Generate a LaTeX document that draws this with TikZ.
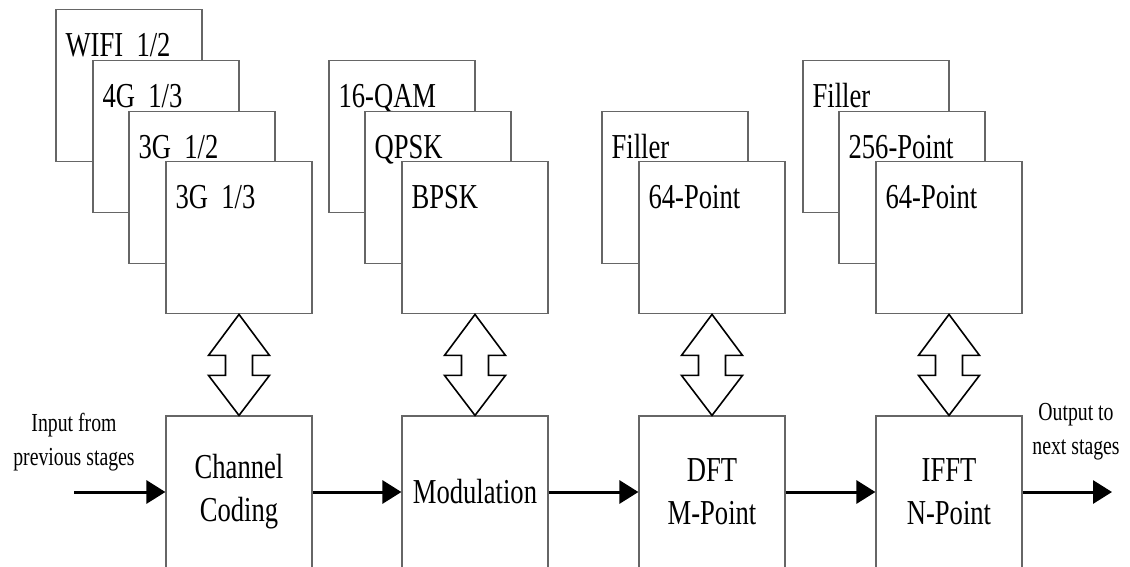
\documentclass[tikz,border=0pt]{standalone}
\usepackage{fontspec}
\setmainfont[FakeStretch=0.76]{Liberation Serif}
\usetikzlibrary{arrows.meta,positioning,backgrounds}

\tikzset{
  stage/.style={draw=black!60, line width=1.2pt, fill=white,
    minimum width=146pt, minimum height=152pt, align=center,
    font=\fontsize{35}{43}\selectfont},
  optbox/.style={draw=black!60, line width=1.2pt, fill=white,
    minimum width=146pt, minimum height=152pt},
  optlbl/.style={anchor=base west, inner sep=0pt, xshift=10pt, yshift=-47pt,
    font=\fontsize{35}{43}\selectfont},
  flow/.style={line width=3pt, -{Triangle[length=19pt,width=23pt]}},
  dblarrow/.style={draw=black, line width=1.6pt, line join=miter},
  note/.style={align=center, font=\fontsize{26}{34}\selectfont},
}

\begin{document}
\begin{tikzpicture}[x=1pt,y=-1pt]
  \useasboundingbox (0,0) rectangle (1130,566);

  % processing chain
  \node[stage] (code) at (239,492) {Channel\\Coding};
  \node[stage] (mod)  at (475,492) {Modulation};
  \node[stage] (dft)  at (712,492) {DFT\\M-Point};
  \node[stage] (ifft) at (949,492) {IFFT\\N-Point};

  % selected configurations
  \node[optbox, above=101pt of code, label={[optlbl]north west:{3G\ \ 1/3}}] (code-1) {};
  \node[optbox, above=101pt of mod,  label={[optlbl]north west:{BPSK}}]     (mod-1)  {};
  \node[optbox, above=101pt of dft,  label={[optlbl]north west:{64-Point}}] (dft-1)  {};
  \node[optbox, above=101pt of ifft, label={[optlbl]north west:{64-Point}}] (ifft-1) {};

  % other configurations, stacked behind
  \begin{scope}[on background layer]
    \node[optbox, label={[optlbl]north west:{WIFI\ \ 1/2}}] (code-4) at ([shift={(-110,-152)}]code-1) {};
    \node[optbox, label={[optlbl]north west:{4G\ \ 1/3}}]   (code-3) at ([shift={(-73,-101)}]code-1) {};
    \node[optbox, label={[optlbl]north west:{3G\ \ 1/2}}]   (code-2) at ([shift={(-37,-50)}]code-1) {};
    \node[optbox, label={[optlbl]north west:{16-QAM}}]      (mod-3)  at ([shift={(-73,-101)}]mod-1) {};
    \node[optbox, label={[optlbl]north west:{QPSK}}]        (mod-2)  at ([shift={(-37,-50)}]mod-1) {};
    \node[optbox, label={[optlbl]north west:{Filler}}]      (dft-2)  at ([shift={(-37,-50)}]dft-1) {};
    \node[optbox, label={[optlbl]north west:{Filler}}]      (ifft-3) at ([shift={(-73,-101)}]ifft-1) {};
    \node[optbox, label={[optlbl]north west:{256-Point}}]   (ifft-2) at ([shift={(-37,-50)}]ifft-1) {};
  \end{scope}

  % reconfiguration arrows
  \foreach \s in {code,mod,dft,ifft}
    \draw[dblarrow] (\s-1.south) -- ++(30.5,41) -- ++(-17,0) -- ++(0,20) -- ++(17,0)
      -- (\s.north) -- ++(-30.5,-40) -- ++(17,0) -- ++(0,-20) -- ++(-17,0) -- cycle;

  % data flow
  \coordinate (src) at (74,492);
  \coordinate (dst) at (1112,492);
  \node[note] (inlbl)  at (74,442)   {Input from\\previous stages};
  \node[note] (outlbl) at (1076,432) {Output to\\next stages};
  \draw[flow] (src) -- (code);
  \draw[flow] (code) -- (mod);
  \draw[flow] (mod) -- (dft);
  \draw[flow] (dft) -- (ifft);
  \draw[flow] (ifft) -- (dst);
\end{tikzpicture}
\end{document}
